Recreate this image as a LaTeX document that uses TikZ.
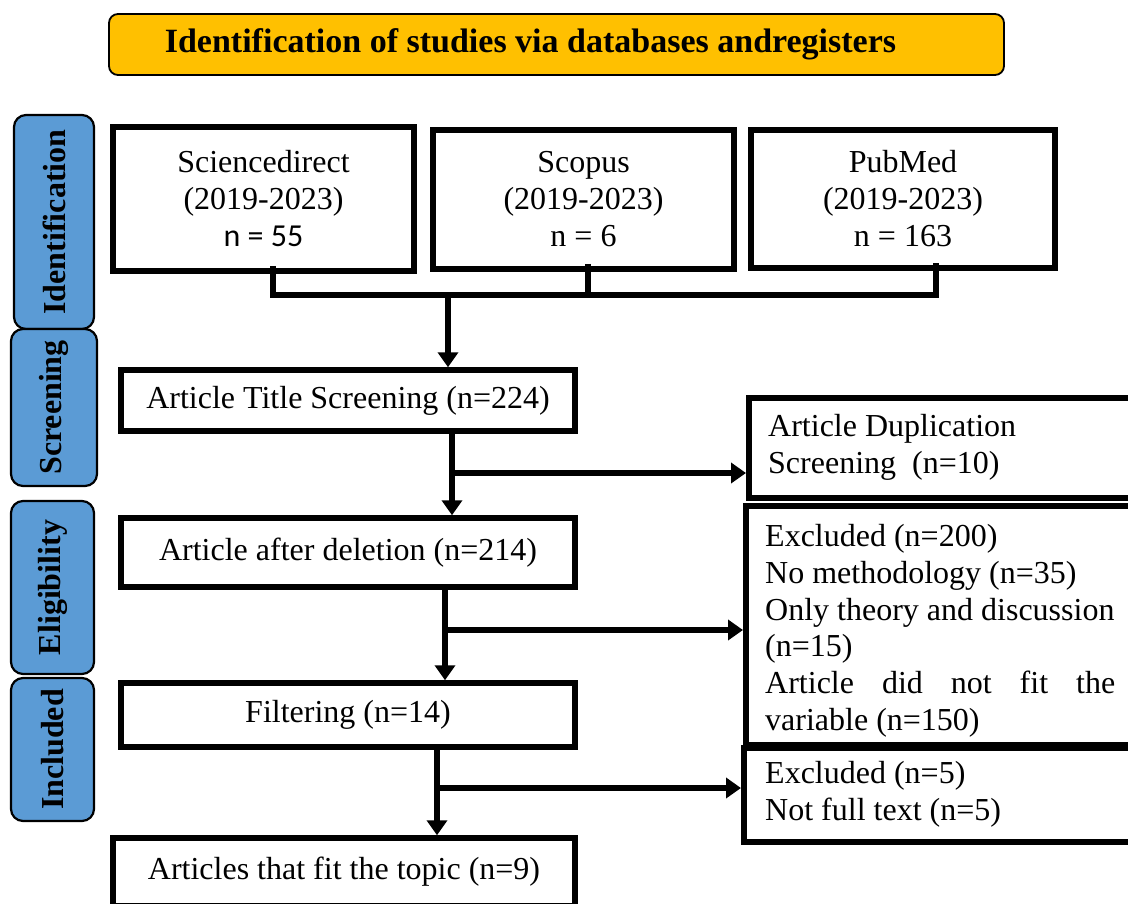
\documentclass[tikz,border=0pt]{standalone}
\usepackage{fontspec}
\setmainfont{Liberation Serif}
\newfontfamily\calib{Carlito}
\usetikzlibrary{arrows.meta,calc}
\definecolor{bannercol}{HTML}{FFC000}
\definecolor{sidecol}{HTML}{5B9BD5}
\begin{document}
\begin{tikzpicture}[x=1pt,y=-1pt,
  banner/.style={draw, line width=1.8pt, fill=bannercol, rounded corners=9pt, inner sep=0pt,
    font=\bfseries\fontsize{34}{38}\selectfont},
  sidebox/.style={draw, line width=2.2pt, fill=sidecol, rounded corners=12pt, rotate=90, inner sep=0pt,
    font=\bfseries\fontsize{32}{36}\selectfont},
  box/.style={draw, line width=5.5pt, inner sep=0pt, align=center, font=\fontsize{32}{37}\selectfont},
  txt/.style={inner sep=0pt, align=left, font=\fontsize{32}{36.8}\selectfont},
  conn/.style={line width=5.5pt},
  arr/.style={line width=5.5pt, -{Triangle[length=15pt,width=20pt]}}]
\useasboundingbox (0,0) rectangle (1128,903);
\clip (0,0) rectangle (1128,903);

% banner
\node[banner, minimum width=895pt, minimum height=61pt] (ban) at (556.5,44.5)
  {Identification of studies via databases andregisters\hspace*{52pt}};

% side labels
\node[sidebox, minimum width=214pt, minimum height=80pt] (sid) at (54,222) {Identification};
\node[sidebox, minimum width=157pt, minimum height=86pt] (ssc) at (54,407.5) {Screening};
\node[sidebox, minimum width=173pt, minimum height=83pt] (sel) at (52.5,587.5) {Eligibility};
\node[sidebox, minimum width=143pt, minimum height=83pt] (sin) at (52.5,749.5) {Included};

% source boxes
\node[box, minimum width=301pt, minimum height=144pt] (sd) at (263.5,199)
  {Sciencedirect\\(2019-2023)\\{\calib n = 55}};
\node[box, minimum width=301pt, minimum height=139pt] (sc) at (583.5,199.5)
  {Scopus\\(2019-2023)\\n = 6};
\node[box, minimum width=304pt, minimum height=138pt] (pm) at (903,199)
  {PubMed\\(2019-2023)\\n = 163};

% main flow
\node[box, minimum width=454pt, minimum height=61pt] (ts) at (348,400.5) {Article Title Screening (n=224)};
\node[box, minimum width=454pt, minimum height=69pt] (ad) at (348,552.5) {Article after deletion (n=214)};
\node[box, minimum width=454pt, minimum height=64pt] (fi) at (348,715) {Filtering (n=14)};
\node[box, minimum width=462pt, minimum height=68pt] (tp) at (344,872) {Articles that fit the topic (n=9)};

% right boxes
\node[box, anchor=north west, minimum width=394pt, minimum height=100pt] (dup) at (746,395) {};
\node[box, anchor=north west, minimum width=397pt, minimum height=239pt] (ex1) at (743,503) {};
\node[box, anchor=north west, minimum width=399pt, minimum height=94pt] (ex2) at (741,745) {};

\node[txt, anchor=north west] (dupt) at (768,414) {Article Duplication\\Screening~~(n=10)};
\node[txt, anchor=north west] (ex1t) at (765,524)
  {Excluded (n=200)\\No methodology (n=35)\\Only theory and discussion\\(n=15)\\
   \makebox[350pt][s]{Article did not fit the}\\variable (n=150)};
\node[txt, anchor=north west] (ex2t) at (765,761) {Excluded (n=5)\\Not full text (n=5)};

% connectors
\coordinate (bl) at (273,295);
\coordinate (bm) at (448,295);
\coordinate (sm) at (588,295);
\coordinate (br) at (936,295);
\draw[conn] ($(sd.south -| bl)+(0,-8)$) -- (bl) -- (br) -- ($(pm.south -| br)+(0,-8)$);
\draw[conn] ($(sc.south -| sm)+(0,-8)$) -- (sm);
\draw[arr] (bm) -- (bm |- ts.north);

\coordinate (c1) at (452,473);
\draw[arr] (ts.south -| c1) -- (ad.north -| c1);
\draw[arr] (c1) -- (dup.west |- c1);

\coordinate (c2) at (445,630);
\draw[arr] (ad.south -| c2) -- (fi.north -| c2);
\draw[arr] (c2) -- (ex1.west |- c2);

\coordinate (c3) at (437,788);
\draw[arr] (fi.south -| c3) -- (tp.north -| c3);
\draw[arr] (c3) -- (ex2.west |- c3);
\end{tikzpicture}
\end{document}
